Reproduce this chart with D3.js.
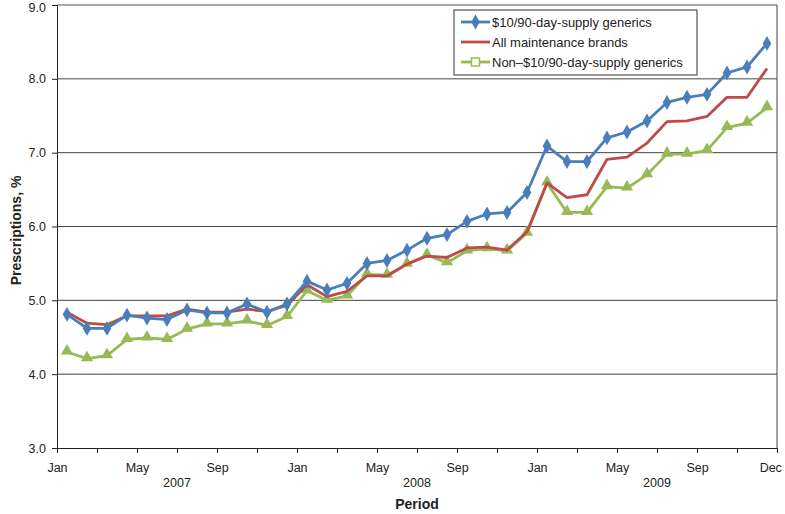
<!DOCTYPE html>
<html>
<head>
<meta charset="utf-8">
<script src="https://cdn.jsdelivr.net/npm/d3@7"></script>
<style>
  html, body { margin: 0; padding: 0; background: #fff; }
  svg { display: block; }
  .tick text { font-family: "Liberation Sans Narrow", "Liberation Sans", Arial, sans-serif; font-size: 12.5px; fill: #222; }
</style>
</head>
<body>
<svg id="chart" width="785" height="514"></svg>
<script>
const months = ["Jan07","Feb07","Mar07","Apr07","May07","Jun07","Jul07","Aug07","Sep07","Oct07","Nov07","Dec07",
                "Jan08","Feb08","Mar08","Apr08","May08","Jun08","Jul08","Aug08","Sep08","Oct08","Nov08","Dec08",
                "Jan09","Feb09","Mar09","Apr09","May09","Jun09","Jul09","Aug09","Sep09","Oct09","Nov09","Dec09"];

const generics10 = [4.81,4.62,4.62,4.80,4.76,4.74,4.87,4.83,4.83,4.95,4.84,4.95,
                    5.26,5.14,5.23,5.50,5.54,5.68,5.84,5.89,6.07,6.17,6.19,6.46,
                    7.09,6.88,6.88,7.20,7.28,7.43,7.68,7.75,7.79,8.08,8.16,8.48];
const brands     = [4.84,4.69,4.67,4.79,4.79,4.79,4.88,4.84,4.84,4.88,4.85,4.93,
                    5.21,5.05,5.12,5.33,5.33,5.49,5.60,5.58,5.71,5.72,5.68,5.93,
                    6.59,6.39,6.43,6.91,6.94,7.13,7.42,7.43,7.49,7.75,7.75,8.14];
const nonGenerics= [4.30,4.21,4.25,4.47,4.49,4.47,4.61,4.68,4.68,4.72,4.66,4.78,
                    5.13,5.00,5.06,5.35,5.34,5.49,5.61,5.51,5.67,5.70,5.67,5.91,
                    6.59,6.19,6.19,6.54,6.52,6.70,6.98,6.98,7.03,7.34,7.40,7.61];

const seriesNames = ["$10/90-day-supply generics", "All maintenance brands", "Non\u2013$10/90-day-supply generics"];
const yTicks = [3,4,5,6,7,8,9];
const monthTickIdx = [0,4,8,12,16,20,24,28,32,36];
const monthTickLabels = ["Jan","May","Sep","Jan","May","Sep","Jan","May","Sep","Dec"];
const yearLabels = ["2007","2008","2009"];

const svg = d3.select("#chart");
const L = 57, R = 777, T = 5, B = 448;

const x = d3.scaleBand().domain(months).range([L, R]).padding(0);
const xb = d3.scaleLinear().domain([0, months.length]).range([L, R]);
const y = d3.scaleLinear().domain([3, 9]).range([B, T]);

// gridlines
svg.append("g").selectAll("line").data(yTicks.filter(d => d > 3)).join("line")
  .attr("x1", L).attr("x2", R)
  .attr("y1", d => y(d)).attr("y2", d => y(d))
  .attr("stroke", d => d === 9 ? "#8a8a8a" : "#444")
  .attr("stroke-width", d => d === 9 ? 1.6 : 1);

// right border
svg.append("line").attr("x1", R).attr("x2", R).attr("y1", T).attr("y2", B)
  .attr("stroke", "#444").attr("stroke-width", 1);

// y axis
const yAxis = svg.append("g").attr("transform", `translate(${L},0)`)
  .call(d3.axisLeft(y).tickValues(yTicks).tickFormat(d3.format(".1f")).tickSize(5).tickPadding(6));
yAxis.select(".domain").attr("stroke", "#222");
yAxis.selectAll(".tick line").attr("stroke", "#222");
yAxis.selectAll(".tick text").filter(d => d === 9).attr("dy", "0.55em");

// x axis
const labelMap = new Map(monthTickIdx.map((d, i) => [d, monthTickLabels[i]]));
const xAxis = svg.append("g").attr("transform", `translate(0,${B})`)
  .call(d3.axisBottom(xb).tickValues(d3.range(0, 37, 2)).tickFormat(d => labelMap.get(d) || "").tickSize(5).tickPadding(10));
xAxis.select(".domain").attr("stroke", "#222");
xAxis.selectAll(".tick line").attr("stroke", "#222");
xAxis.selectAll(".tick text").filter(d => d === 36).attr("text-anchor", "end").attr("dx", "0.35em");

// year labels
svg.append("g").selectAll("text").data(yearLabels).join("text")
  .attr("x", (d, i) => xb(i * 12 + 6))
  .attr("y", 487)
  .attr("text-anchor", "middle")
  .style("font-family", '"Liberation Sans Narrow", "Liberation Sans", Arial, sans-serif')
  .style("font-size", "12.5px").attr("fill", "#222")
  .text(d => d);

// axis titles
svg.append("text").attr("x", (L + R) / 2).attr("y", 509).attr("text-anchor", "middle")
  .style("font-family", '"Liberation Sans", Arial, sans-serif').style("font-size", "14px").style("font-weight", "bold")
  .attr("fill", "#222").text("Period");
svg.append("text").attr("transform", `translate(21,${(T + B) / 2 + 4}) rotate(-90)`).attr("text-anchor", "middle")
  .style("font-family", '"Liberation Sans", Arial, sans-serif').style("font-size", "14px").style("font-weight", "bold")
  .attr("fill", "#222").text("Prescriptions, %");

const colors = ["#4a7ebb", "#be4b48", "#98b954"];
const data = [generics10, brands, nonGenerics];
const cx = (i) => x(months[i]) + x.bandwidth() / 2;
const line = d3.line().x((d, i) => cx(i)).y(d => y(d));

// draw order: green, red, blue on top
[2, 1, 0].forEach(s => {
  svg.append("path").datum(data[s]).attr("d", line)
    .attr("fill", "none").attr("stroke", colors[s]).attr("stroke-width", 2.8)
    .attr("stroke-linejoin", "round");
  if (s === 0) {
    svg.append("g").selectAll("path").data(data[s]).join("path")
      .attr("d", d3.symbol(d3.symbolDiamond, 64))
      .attr("transform", (d, i) => `translate(${cx(i)},${y(d)})`)
      .attr("fill", colors[s]);
  } else if (s === 2) {
    svg.append("g").selectAll("path").data(data[s]).join("path")
      .attr("d", d3.symbol(d3.symbolTriangle, 64))
      .attr("transform", (d, i) => `translate(${cx(i)},${y(d) - 1})`)
      .attr("fill", colors[s]);
  }
});

// legend
const lg = svg.append("g");
lg.append("rect").attr("x", 454).attr("y", 10).attr("width", 243).attr("height", 65)
  .attr("fill", "#fff").attr("stroke", "#333").attr("stroke-width", 1);
const rowY = [22, 42, 62];
seriesNames.forEach((name, i) => {
  lg.append("line").attr("x1", 461).attr("x2", 490).attr("y1", rowY[i]).attr("y2", rowY[i])
    .attr("stroke", colors[i]).attr("stroke-width", 2.8);
  if (i === 0) {
    lg.append("path").attr("d", d3.symbol(d3.symbolDiamond, 64))
      .attr("transform", `translate(475.5,${rowY[i]})`).attr("fill", colors[i]);
  } else if (i === 2) {
    lg.append("rect").attr("x", 471.5).attr("y", rowY[i] - 4).attr("width", 8).attr("height", 8)
      .attr("fill", "#fff").attr("stroke", colors[i]).attr("stroke-width", 1.5);
  }
  lg.append("text").attr("x", 492).attr("y", rowY[i] + 5)
    .style("font-family", '"Liberation Sans", Arial, sans-serif').style("font-size", "13px")
    .attr("fill", "#222").text(name);
});
</script>
</body>
</html>
